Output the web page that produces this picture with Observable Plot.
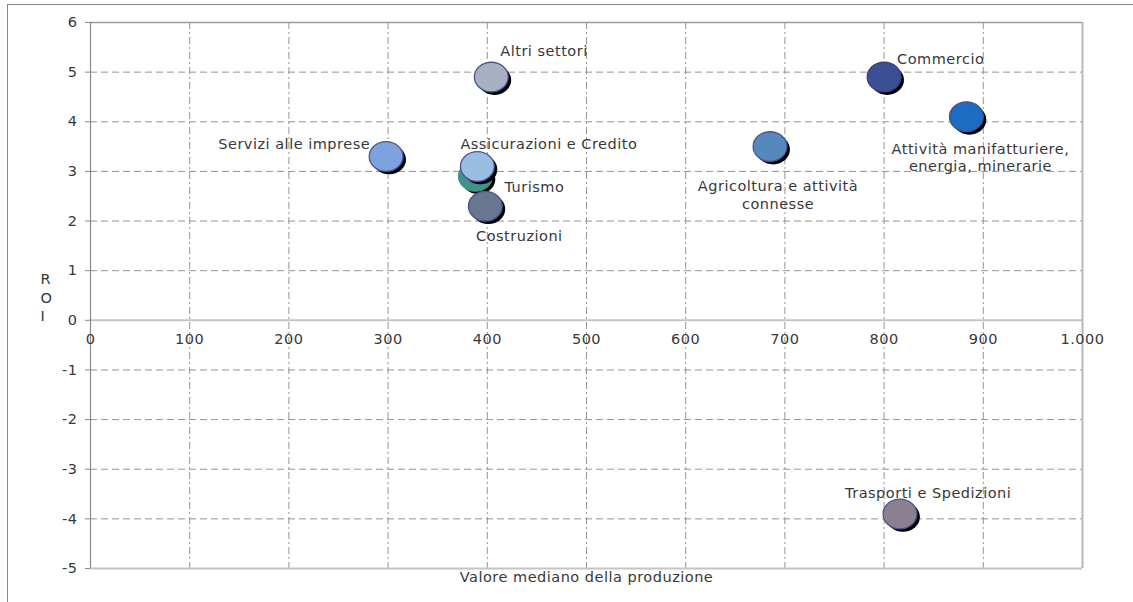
<!DOCTYPE html>
<html>
<head>
<meta charset="utf-8">
<script src="https://cdn.jsdelivr.net/npm/d3@7"></script>
<script src="https://cdn.jsdelivr.net/npm/@observablehq/plot@0.6"></script>
<style>
  html, body { margin: 0; padding: 0; background: #fff; }
  #wrap { position: relative; width: 1133px; height: 602px; overflow: hidden; }
  #chart svg { display: block; }
  #border {
    position: absolute; left: 7px; top: 4px; width: 2000px; height: 2000px;
    border-left: 1.5px solid #8a8a8a; border-top: 1.5px solid #8a8a8a;
    pointer-events: none;
  }
</style>
</head>
<body>
<div id="wrap"><div id="chart"></div><div id="border"></div></div>
<script>
// Sectors: median production value vs. ROI
const sectors = [
  "Altri settori",
  "Commercio",
  "Attività manifatturiere,\nenergia, minerarie",
  "Agricoltura e attività\nconnesse",
  "Servizi alle imprese",
  "Turismo",
  "Costruzioni",
  "Assicurazioni e Credito",
  "Trasporti e Spedizioni"
];
const production = [404, 800, 883, 685, 298, 388, 398, 390, 816];
const roi = [4.9, 4.9, 4.1, 3.5, 3.3, 2.9, 2.3, 3.1, -3.9];
const bubbleColors = ["#a8b0c3", "#3b4f95", "#1e6cc2", "#5589bd", "#7ea2dd", "#44908e", "#68768f", "#9abde2", "#8b8090"];
const bubbleStrokes = ["#4a5590", "#3a3f80", "#3a4f90", "#4a5590", "#4a5590", "#3aa070", "#4a5590", "#4a5590", "#4a5590"];

const xTicks = [0, 100, 200, 300, 400, 500, 600, 700, 800, 900, 1000];
const xTickLabels = ["0", "100", "200", "300", "400", "500", "600", "700", "800", "900", "1.000"];
const yTicks = [-5, -4, -3, -2, -1, 0, 1, 2, 3, 4, 5, 6];
const yTickLabels = ["-5", "-4", "-3", "-2", "-1", "0", "1", "2", "3", "4", "5", "6"];

const rows = sectors.map((name, i) => ({
  name, x: production[i], y: roi[i], fill: bubbleColors[i], stroke: bubbleStrokes[i]
}));

// Label offsets (pixels) relative to each bubble
const labelPlacement = {
  "Altri settori": {dx: 9, dy: -27, textAnchor: "start"},
  "Commercio": {dx: 13, dy: -19, textAnchor: "start"},
  "Attività manifatturiere,\nenergia, minerarie": {dx: 14, dy: 40, textAnchor: "middle"},
  "Agricoltura e attività\nconnesse": {dx: 8, dy: 48, textAnchor: "middle"},
  "Servizi alle imprese": {dx: -16, dy: -13, textAnchor: "end"},
  "Turismo": {dx: 29, dy: 10, textAnchor: "start"},
  "Costruzioni": {dx: 34, dy: 29, textAnchor: "middle"},
  "Assicurazioni e Credito": {dx: -17, dy: -23, textAnchor: "start"},
  "Trasporti e Spedizioni": {dx: -55, dy: -21, textAnchor: "start"}
};

// Flattened ellipse symbol for the bubbles
const K = 0.5523;
const ellipse = {
  draw(ctx, size) {
    const r = Math.sqrt(size / Math.PI);
    const rx = r * 1.07, ry = r * 0.94;
    ctx.moveTo(rx, 0);
    ctx.bezierCurveTo(rx, K * ry, K * rx, ry, 0, ry);
    ctx.bezierCurveTo(-K * rx, ry, -rx, K * ry, -rx, 0);
    ctx.bezierCurveTo(-rx, -K * ry, -K * rx, -ry, 0, -ry);
    ctx.bezierCurveTo(K * rx, -ry, rx, -K * ry, rx, 0);
    ctx.closePath();
  }
};
const R = 15.8;

const xLabel = new Map(xTicks.map((t, i) => [t, xTickLabels[i]]));
const yLabel = new Map(yTicks.map((t, i) => [t, yTickLabels[i]]));

const bubbleMarks = rows.flatMap(d => [
  Plot.dot([d], {x: "x", y: "y", r: R, symbol: ellipse, fill: "#000", stroke: "none", dx: 3, dy: 3}),
  Plot.dot([d], {x: "x", y: "y", r: R, symbol: ellipse, fill: d.fill, stroke: d.stroke, strokeWidth: 1.3})
]);

const labelMarks = rows.map(d => {
  const p = labelPlacement[d.name];
  return Plot.text([d], {x: "x", y: "y", text: "name", dx: p.dx, dy: p.dy, textAnchor: p.textAnchor, lineHeight: 1.2, fill: "#383838"});
});

const chart = Plot.plot({
  width: 1133,
  height: 602,
  marginLeft: 90,
  marginRight: 51,
  marginTop: 22,
  marginBottom: 34,
  style: {fontFamily: "DejaVu Sans", fontSize: "14.5px", letterSpacing: "0.5px", color: "#383838", background: "transparent"},
  x: {domain: [0, 1000], axis: null},
  y: {domain: [-5, 6]},
  marks: [
    Plot.gridX(xTicks.filter(t => t > 0 && t < 1000), {stroke: "#949494", strokeOpacity: 1, strokeDasharray: "7,3,2,3"}),
    Plot.gridY(yTicks.filter(t => t !== 0 && t > -5 && t < 6), {stroke: "#949494", strokeOpacity: 1, strokeDasharray: "7,4"}),
    Plot.ruleY([6], {stroke: "#9a9a9a", strokeWidth: 1.5}),
    Plot.ruleY([-5], {stroke: "#c4c4c4", strokeWidth: 2}),
    Plot.ruleY([0], {stroke: "#c4c4c4", strokeWidth: 2}),
    Plot.ruleX([1000], {stroke: "#b8b8b8", strokeWidth: 2}),
    Plot.ruleX([0], {stroke: "#8a8a8a", strokeWidth: 1.2}),
    Plot.axisY(yTicks, {tickSize: 5, tickPadding: 8, stroke: "#8a8a8a", tickFormat: t => yLabel.get(t), fontSize: 14.5, label: null}),
    Plot.text(xTicks, {x: t => t, y: () => 0, dy: 19, text: t => xLabel.get(t), fontSize: 14.5}),
    Plot.text(["R\nO\nI"], {frameAnchor: "left", dx: -50, dy: 1, lineHeight: 1.3, fontSize: 14.5}),
    Plot.text(["Valore mediano della produzione"], {frameAnchor: "bottom", dy: 13, fontSize: 14.5}),
    ...bubbleMarks,
    ...labelMarks
  ]
});

document.getElementById("chart").appendChild(chart);
</script>
</body>
</html>
